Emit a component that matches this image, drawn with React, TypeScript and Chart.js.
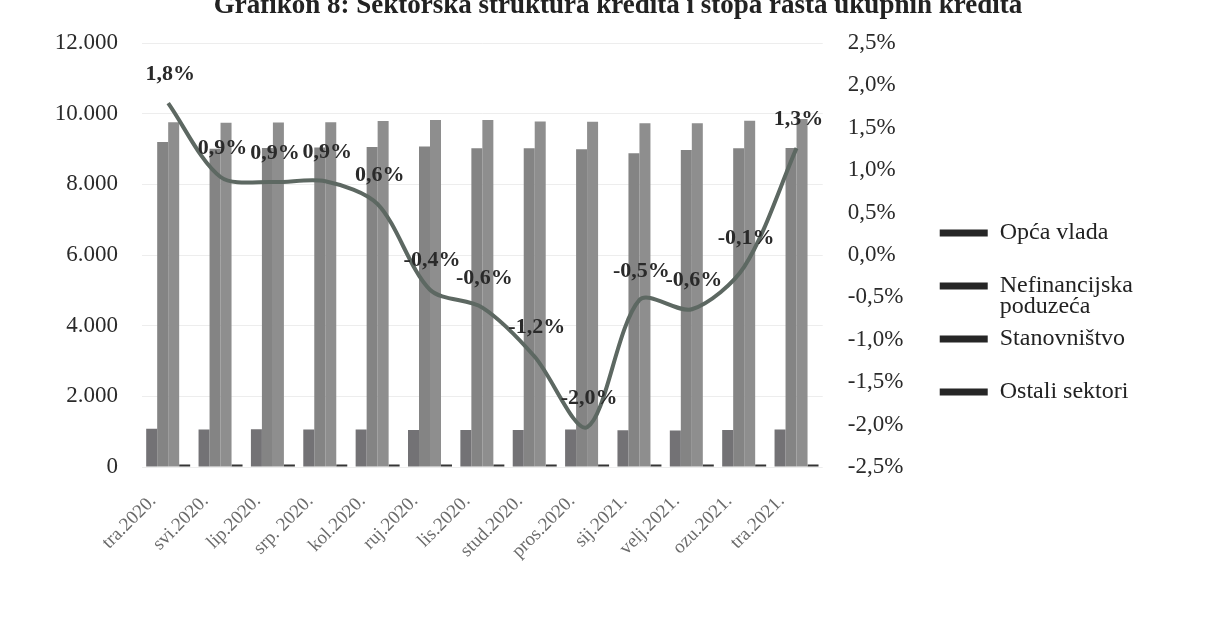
import React, { useEffect, useRef } from 'react';
import { Chart, registerables } from 'chart.js';

Chart.register(...registerables);

const TITLE = 'Grafikon 8: Sektorska struktura kredita i stopa rasta ukupnih kredita';

const categories = [
  'tra.2020.', 'svi.2020.', 'lip.2020.', 'srp. 2020.', 'kol.2020.', 'ruj.2020.', 'lis.2020.',
  'stud.2020.', 'pros.2020.', 'sij.2021.', 'velj.2021.', 'ozu.2021.', 'tra.2021.',
];

const seriesNames = ['Opća vlada', 'Nefinancijska poduzeća', 'Stanovništvo', 'Ostali sektori'];

const opcaVlada = [1080, 1060, 1070, 1060, 1060, 1050, 1050, 1050, 1060, 1040, 1030, 1050, 1060];
const nefinancijskaPoduzeca = [9200, 9010, 9030, 9040, 9060, 9070, 9020, 9020, 8990, 8880, 8970, 9020, 9030];
const stanovnistvo = [9760, 9740, 9750, 9760, 9790, 9820, 9820, 9780, 9770, 9730, 9730, 9800, 9850];
const ostaliSektori = [70, 70, 70, 70, 70, 70, 70, 70, 70, 70, 70, 70, 70];

const stopaRasta = [1.79, 0.92, 0.86, 0.87, 0.6, -0.41, -0.62, -1.2, -2.03, -0.53, -0.64, -0.14, 1.26];
const stopaRastaName = 'Stopa rasta ukupnih kredita';

const leftTicks = { min: 0, max: 12000, step: 2000 };
const rightTicks = { min: -2.5, max: 2.5, step: 0.5 };

const barColors = ['#737275', '#848484', '#8e8e8e', '#343434'];
const legendSwatch = '#262626';
const lineColor = '#5d6862';
const SERIF = "'Liberation Serif', 'Times New Roman', serif";

const fmtPct = (v: number) => Number(v).toFixed(1).replace('.', ',') + '%';
const fmtThousands = (v: number) => {
  const n = Math.round(Number(v));
  return n.toString().replace(/\B(?=(\d{3})+(?!\d))/g, '.');
};

// Title drawn on the canvas, centred over the whole figure as in the original
const chartTitle = {
  id: 'chartTitle',
  afterDraw(chart: any) {
    const ctx = chart.ctx;
    ctx.save();
    ctx.font = `bold 27px ${SERIF}`;
    ctx.fillStyle = '#222';
    ctx.textAlign = 'center';
    ctx.textBaseline = 'alphabetic';
    ctx.fillText(TITLE, 618, 22.5);
    ctx.restore();
  },
};

const pointLabels = {
  id: 'pointLabels',
  afterDatasetsDraw(chart: any) {
    const idx = chart.data.datasets.findIndex((d: any) => d.type === 'line');
    if (idx < 0) return;
    const meta = chart.getDatasetMeta(idx);
    const ctx = chart.ctx;
    ctx.save();
    ctx.font = `bold 22px ${SERIF}`;
    ctx.fillStyle = '#2a2a2a';
    ctx.textAlign = 'center';
    ctx.textBaseline = 'middle';
    meta.data.forEach((pt: any, i: number) => {
      const v = chart.data.datasets[idx].data[i];
      ctx.fillText(fmtPct(v), pt.x + 2, pt.y - 29);
    });
    ctx.restore();
  },
};

export default function App() {
  const ref = useRef<HTMLCanvasElement>(null);

  useEffect(() => {
    const barSeries = [opcaVlada, nefinancijskaPoduzeca, stanovnistvo, ostaliSektori];
    const datasets: any[] = barSeries.map((data, i) => ({
      type: 'bar',
      label: seriesNames[i],
      data,
      backgroundColor: barColors[i],
      borderWidth: 0,
      categoryPercentage: 0.84,
      barPercentage: 1.0,
      yAxisID: 'y',
      order: 1,
    }));
    datasets.push({
      type: 'line',
      label: stopaRastaName,
      data: stopaRasta,
      borderColor: lineColor,
      borderWidth: 4,
      tension: 0.3,
      pointRadius: 0,
      fill: false,
      yAxisID: 'y1',
      order: 0,
    });

    const chart = new Chart(ref.current as HTMLCanvasElement, {
      type: 'bar',
      data: { labels: categories, datasets },
      options: {
        animation: false,
        responsive: true,
        maintainAspectRatio: false,
        layout: { padding: { left: 0, right: 71, top: 53, bottom: 0 } },
        plugins: {
          tooltip: { enabled: false },
          title: { display: false },
          legend: {
            position: 'right',
            align: 'center',
            maxWidth: 300,
            labels: {
              boxWidth: 48,
              boxHeight: 7,
              padding: 11,
              color: '#222',
              font: { family: SERIF, size: 24, lineHeight: 0.875 },
              generateLabels: (ch: any) =>
                ch.data.datasets
                  .map((ds: any, i: number) => ({ ds, i }))
                  .filter(({ ds }: any) => ds.type === 'bar')
                  .map(({ ds, i }: any) => {
                    const name: string = ds.label;
                    let lines: string[];
                    if (name.length > 14) {
                      const sp = name.indexOf(' ');
                      lines = [name.slice(0, sp), name.slice(sp + 1)];
                    } else {
                      lines = [name, ''];
                    }
                    return {
                      text: lines,
                      fillStyle: legendSwatch,
                      strokeStyle: legendSwatch,
                      lineWidth: 0,
                      hidden: false,
                      datasetIndex: i,
                      fontColor: '#222',
                    };
                  }),
            },
          },
        },
        scales: {
          x: {
            offset: true,
            grid: { display: false, drawTicks: false },
            border: { display: false },
            ticks: {
              autoSkip: false,
              minRotation: 45,
              maxRotation: 45,
              padding: 23,
              labelOffset: -15,
              color: '#6b6b6b',
              font: { family: SERIF, size: 19 },
            },
            afterFit: (s: any) => { s.height = 133; },
          },
          y: {
            position: 'left',
            min: leftTicks.min,
            max: leftTicks.max,
            grid: { color: '#ededed', drawTicks: false },
            border: { display: false },
            ticks: {
              stepSize: leftTicks.step,
              padding: 24,
              color: '#2a2a2a',
              font: { family: SERIF, size: 23 },
              callback: (v: any) => fmtThousands(v),
            },
            afterFit: (s: any) => { s.width = 142; },
          },
          y1: {
            position: 'right',
            min: rightTicks.min,
            max: rightTicks.max,
            grid: { display: false, drawTicks: false },
            border: { display: false },
            ticks: {
              stepSize: rightTicks.step,
              padding: 25,
              color: '#2a2a2a',
              font: { family: SERIF, size: 23 },
              callback: (v: any) => fmtPct(v),
            },
            afterFit: (s: any) => { s.width = 106; },
          },
        },
      },
      plugins: [pointLabels, chartTitle],
    } as any);
    return () => chart.destroy();
  }, []);

  return (
    <div style={{ position: 'absolute', left: 0, top: -10, width: 1214, height: 610, background: '#ffffff' }}>
      <canvas ref={ref} />
    </div>
  );
}
